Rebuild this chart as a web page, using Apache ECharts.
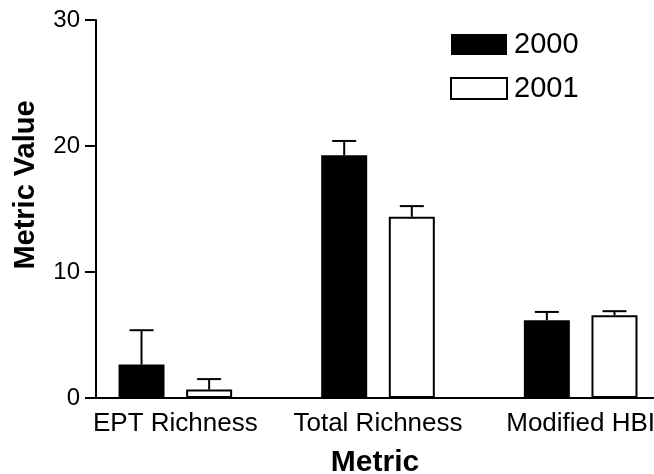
<!DOCTYPE html>
<html>
<head>
<meta charset="utf-8">
<script src="https://cdn.jsdelivr.net/npm/echarts@6/dist/echarts.min.js"></script>
<style>
  html, body { margin: 0; padding: 0; background: #fff; overflow: hidden; }
  #chart { width: 654px; height: 474px; }
</style>
</head>
<body>
<div id="chart"></div>
<script>
// ---- data ----
const categories = ['EPT Richness', 'Total Richness', 'Modified HBI'];
const seriesNames = ['2000', '2001'];
const values2000 = [2.65, 19.27, 6.17];
const errors2000 = [2.73, 1.13, 0.66];
const values2001 = [0.67, 14.38, 6.57];
const errors2001 = [0.83, 0.85, 0.32];
const yTicks = [0, 10, 20, 30];

// ---- style constants ----
const FONT = "'Liberation Sans', Arial, Helvetica, sans-serif";
const BAR_W = 46;
const BAR_GAP = 0.47;
const CAP_HALF = 12;

const chart = echarts.init(document.getElementById('chart'), null, { renderer: 'canvas', width: 654, height: 474 });

function errorSeries(vals, errs, sign) {
  const offset = sign * BAR_W * (1 + BAR_GAP) / 2;
  return {
    type: 'custom',
    xAxisIndex: 0,
    yAxisIndex: 0,
    z: 5,
    silent: true,
    data: vals.map((v, i) => [i, v, errs[i]]),
    renderItem: function (params, api) {
      const c = api.value(0), v = api.value(1), e = api.value(2);
      const base = api.coord([c, v]);
      const top = api.coord([c, v + e]);
      const x = base[0] + offset;
      const st = { stroke: '#000', lineWidth: 2 };
      return {
        type: 'group',
        children: [
          { type: 'line', shape: { x1: x, y1: base[1], x2: x, y2: top[1] }, style: st },
          { type: 'line', shape: { x1: x - CAP_HALF, y1: top[1], x2: x + CAP_HALF, y2: top[1] }, style: st }
        ]
      };
    }
  };
}

const option = {
  animation: false,
  backgroundColor: '#fff',
  textStyle: { fontFamily: FONT, color: '#000' },
  grid: [
    { left: 74, width: 608, top: 20, height: 378, containLabel: false, outerBoundsMode: 'none' },
    { left: 96, width: 558, top: 20, height: 378, containLabel: false, outerBoundsMode: 'none' }
  ],
  legend: {
    data: seriesNames,
    orient: 'vertical',
    left: 450,
    top: 30,
    padding: 0,
    icon: 'rect',
    itemWidth: 56,
    itemHeight: 21,
    itemGap: 15,
    textStyle: { fontFamily: FONT, fontSize: 29, color: '#000', padding: [0, 0, 0, 2] },
    selectedMode: false
  },
  xAxis: [
    {
      type: 'category',
      gridIndex: 0,
      data: categories,
      axisLine: { show: false },
      axisTick: { show: false },
      axisLabel: { fontFamily: FONT, fontSize: 26, color: '#000', margin: 13, interval: 0 }
    },
    {
      type: 'value',
      gridIndex: 1,
      min: 0,
      max: 1,
      axisLine: { show: true, lineStyle: { color: '#000', width: 2 } },
      axisTick: { show: false },
      axisLabel: { show: false },
      splitLine: { show: false },
      name: 'Metric',
      nameLocation: 'middle',
      nameGap: 50,
      nameTextStyle: { fontFamily: FONT, fontSize: 30, fontWeight: 'bold', color: '#000' }
    }
  ],
  yAxis: [
    {
      type: 'value',
      gridIndex: 0,
      min: yTicks[0],
      max: yTicks[yTicks.length - 1],
      interval: 10,
      show: false,
      splitLine: { show: false }
    },
    {
      type: 'value',
      gridIndex: 1,
      min: yTicks[0],
      max: yTicks[yTicks.length - 1],
      interval: 10,
      axisLine: { show: true, lineStyle: { color: '#000', width: 2 } },
      axisTick: { show: true, length: 11, lineStyle: { color: '#000', width: 2 } },
      axisLabel: { fontFamily: FONT, fontSize: 24, color: '#000', margin: 16 },
      splitLine: { show: false },
      name: 'Metric Value',
      nameLocation: 'middle',
      nameGap: 56,
      nameTextStyle: { fontFamily: FONT, fontSize: 29, fontWeight: 'bold', color: '#000', padding: [0, 0, 0, 48] }
    }
  ],
  series: [
    {
      name: seriesNames[0],
      type: 'bar',
      xAxisIndex: 0,
      yAxisIndex: 0,
      data: values2000,
      barWidth: BAR_W,
      barGap: (BAR_GAP * 100) + '%',
      itemStyle: { color: '#000', borderColor: '#000', borderWidth: 0 }
    },
    {
      name: seriesNames[1],
      type: 'bar',
      xAxisIndex: 0,
      yAxisIndex: 0,
      data: values2001,
      barWidth: BAR_W,
      barGap: (BAR_GAP * 100) + '%',
      itemStyle: { color: '#fff', borderColor: '#000', borderWidth: 2 }
    },
    errorSeries(values2000, errors2000, -1),
    errorSeries(values2001, errors2001, 1)
  ]
};

chart.setOption(option);
</script>
</body>
</html>
